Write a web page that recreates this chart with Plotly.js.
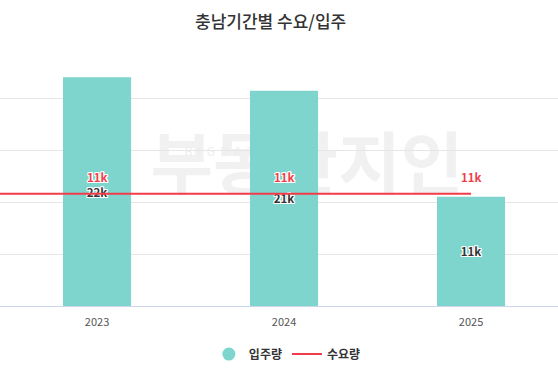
<!DOCTYPE html>
<html>
<head>
<meta charset="utf-8">
<script src="https://cdn.plot.ly/plotly-3.0.1.min.js"></script>
<style>
html,body{margin:0;padding:0;background:#fff;}
#chart{width:558px;height:374px;}
</style>
</head>
<body>
<div id="chart"></div>
<script>
// Data
const years = [2023, 2024, 2025];
const yearLabels = ['2023', '2024', '2025'];
const supply = [22000, 20700, 10500];        // 입주량
const demandYears = [2022, 2023, 2024, 2025]; // line continues past left edge
const demand = [10800, 10800, 10800, 10800];  // 수요량
const demandLabelShown = [false, true, true, true];

const fmtK = v => Math.round(v / 1000) + 'k';
const FONT = '"Noto Sans CJK KR", "Noto Sans", sans-serif';
const TEAL = '#7dd5cd';
const RED = '#f23c4a';
const WHITE_OUTLINE = '1px 0 0 #fff, -1px 0 0 #fff, 0 1px 0 #fff, 0 -1px 0 #fff, 1px 1px 0 #fff, -1px -1px 0 #fff, 1px -1px 0 #fff, -1px 1px 0 #fff';

const traces = [
  {
    type: 'bar',
    x: years,
    y: supply,
    width: 0.364,
    marker: {color: TEAL},
    text: supply.map(fmtK),
    textposition: 'inside',
    insidetextanchor: 'middle',
    textangle: 0,
    textfont: {family: FONT, size: 11.5, color: '#333', weight: 700, shadow: WHITE_OUTLINE},
    name: '입주량',
    showlegend: false,
    hoverinfo: 'skip'
  },
  {
    type: 'scatter',
    mode: 'markers',
    x: [null], y: [null],
    marker: {symbol: 'circle', size: 13, color: TEAL},
    name: '입주량',
    showlegend: true
  },
  {
    type: 'scatter',
    mode: 'lines',
    x: demandYears,
    y: demand,
    line: {color: RED, width: 2},
    name: '수요량',
    cliponaxis: true,
    hoverinfo: 'skip'
  }
];

const lineLabels = demandYears.map((x, i) => demandLabelShown[i] ? {
  x: x, y: demand[i], xref: 'x', yref: 'y',
  text: fmtK(demand[i]),
  showarrow: false,
  yanchor: 'middle', yshift: 17, borderpad: 0,
  font: {family: FONT, size: 11.5, color: RED, weight: 700, shadow: WHITE_OUTLINE}
} : null).filter(Boolean);

const layout = {
  width: 558,
  height: 374,
  margin: {l: 0, r: 0, t: 46, b: 68, pad: 0},
  paper_bgcolor: '#fff',
  plot_bgcolor: '#fff',
  font: {family: FONT, color: '#333'},
  title: {
    text: '충남기간별 수요/입주',
    x: 0.485, xanchor: 'center',
    y: 0.94, yanchor: 'middle',
    yref: 'container',
    font: {family: FONT, size: 17, color: '#333', weight: 500}
  },
  xaxis: {
    range: [2022.481, 2025.465],
    tickvals: years,
    ticktext: yearLabels,
    showgrid: false,
    zeroline: false,
    showline: true,
    linecolor: '#ccd6eb',
    linewidth: 1,
    ticks: '',
    ticklabelstandoff: 6,
    tickfont: {family: FONT, size: 11, color: '#555'},
    fixedrange: true
  },
  yaxis: {
    range: [0, 25000],
    tickvals: [5000, 10000, 15000, 20000],
    showticklabels: false,
    showgrid: true,
    gridcolor: '#e6e6e6',
    gridwidth: 1,
    zeroline: false,
    showline: false,
    ticks: '',
    fixedrange: true
  },
  showlegend: true,
  legend: {
    orientation: 'h',
    x: 0.515, xanchor: 'center',
    y: -0.185, yanchor: 'middle',
    font: {family: FONT, size: 12, color: '#333', weight: 700},
    itemwidth: 30,
    traceorder: 'normal'
  },
  annotations: lineLabels,
  shapes: [
    {
      type: 'rect', xref: 'paper', yref: 'paper',
      x0: 0.30, x1: 0.80, y0: 0.30, y1: 0.74,
      layer: 'below', line: {width: 0}, fillcolor: 'rgba(0,0,0,0)',
      label: {text: '부동산지인', textposition: 'middle center',
              font: {family: FONT, size: 68, color: '#f1f1f1', weight: 700}}
    },
    {
      type: 'rect', xref: 'paper', yref: 'paper',
      x0: 0.32, x1: 0.50, y0: 0.56, y1: 0.62,
      layer: 'below', line: {width: 0}, fillcolor: 'rgba(0,0,0,0)',
      label: {text: 'B  I  G  D  A  T  A', textposition: 'middle left',
              font: {family: FONT, size: 12, color: '#eeeeee'}}
    }
  ]
};

Plotly.newPlot('chart', traces, layout, {displayModeBar: false, staticPlot: true});
</script>
</body>
</html>
